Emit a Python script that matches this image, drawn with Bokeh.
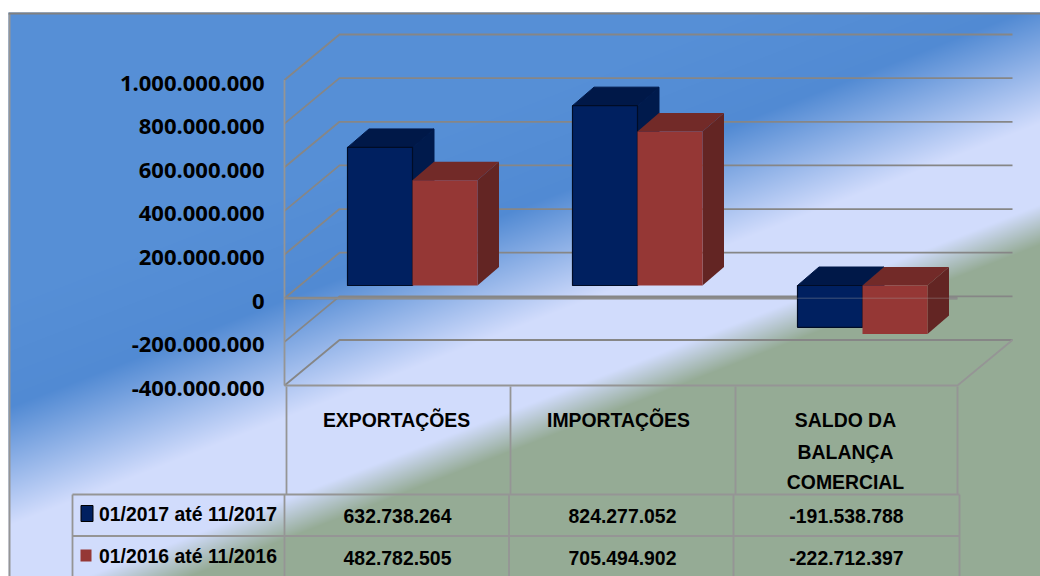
import numpy as np
from bokeh.core.properties import value
from bokeh.embed import file_html
from bokeh.models import FixedTicker, LinearAxis, Range1d
from bokeh.plotting import figure
from bokeh.resources import INLINE

categories = ["EXPORTAÇÕES", "IMPORTAÇÕES", "SALDO DA\nBALANÇA\nCOMERCIAL"]
series_2017 = [632738264, 824277052, -191538788]
series_2016 = [482782505, 705494902, -222712397]
label_2017 = "01/2017 até 11/2017"
label_2016 = "01/2016 até 11/2016"
ticks = [-400000000, -200000000, 0, 200000000, 400000000, 600000000, 800000000, 1000000000]

W, H = 1040, 576
PX = 200e6 / 43.64
ZERO = 297.7


def fmt(v):
    return f"{v:,}".replace(",", ".")


p = figure(width=W, height=H, output_backend="svg", toolbar_location=None,
           x_range=Range1d(0, 1040),
           y_range=Range1d((ZERO - 576) * PX, ZERO * PX),
           x_axis_type=None, y_axis_type=None, min_border=0,
           outline_line_color=None, background_fill_color="#ffffff", border_fill_color="#ffffff")
p.grid.visible = False
p.extra_y_ranges = {
    "px": Range1d(576, 0),
    "labels": Range1d((ZERO - 576 + 3) * PX, (ZERO + 3) * PX),
}

# diagonal background
xx, yy = np.meshgrid(np.arange(0, 1040) + .5, np.arange(576, 0, -1) - .5)
s = yy + 0.39 * xx
stops = [0, 300, 410, 528, 610, 650, 2000]
cols = np.array([(86, 143, 214), (86, 143, 214), (81, 138, 211), (209, 220, 252), (209, 220, 252),
                 (149, 171, 149), (149, 171, 149)], float)
img = np.zeros(s.shape + (4,), dtype=np.uint8)
for i in range(3):
    img[..., i] = np.interp(s, stops, cols[:, i]).round()
img[..., 3] = 255
# white margin above and left of the chart frame
img[(yy < 12.5) | (xx < 8)] = (255, 255, 255, 255)
rgba = img.view(dtype=np.uint32).reshape(s.shape)
p.image_rgba(image=[rgba], x=0, y=p.y_range.start, dw=1040, dh=p.y_range.end - p.y_range.start)

GRID = "#868686"
LIGHT = "#959595"
FX0, FX1 = 284, 957
DX, DY = 55, 45.5 * PX

# chart frame
p.line([9, 9], [576, 13], y_range_name="px", line_color=LIGHT, line_width=2)
p.line([8, 1040], [13, 13], y_range_name="px", line_color="#808080", line_width=2)

# walls and gridlines
for t in ticks:
    p.line([FX0, FX0 + DX, FX1 + DX], [t, t + DY, t + DY], line_color=GRID, line_width=1.8)
p.line([FX0, FX0], [ticks[0], ticks[-1]], line_color=LIGHT, line_width=1.8)
p.line([FX0, FX1, FX1 + DX], [ticks[0], ticks[0], ticks[0] + DY], line_color=LIGHT, line_width=1.8)
p.line([FX0, FX1], [0, 0], line_color=GRID, line_width=2.8)

# 3D bars
BASE = 12.7 * PX
BW, STEP, BX = 65, 225, 347
BDX, BDY = 21.5, 18.5 * PX
styles = [(series_2017, 0, "#002060", "#001848", "#001a4c", "#000c26", 1.2),
          (series_2016, 1, "#953735", "#722a28", "#632523", "#953735", 0)]
for vals, k, front, top, side, edge, lw in styles:
    lo = [min(v, 0) + BASE for v in vals]
    hi = [max(v, 0) + BASE for v in vals]
    x0 = [BX + i * STEP + k * BW for i in range(3)]
    x1 = [a + BW for a in x0]
    p.patches([[a, a + BDX, b + BDX, b] for a, b in zip(x0, x1)],
              [[h, h + BDY, h + BDY, h] for h in hi],
              fill_color=top, line_color=top if lw else None)
    p.patches([[b, b + BDX, b + BDX, b] for b in x1],
              [[l, l + BDY, h + BDY, h] for l, h in zip(lo, hi)],
              fill_color=side, line_color=side if lw else None)
    p.quad(left=x0, right=x1, bottom=lo, top=hi, fill_color=front,
           line_color=edge if lw else None, line_width=lw or 1)

p.line([FX0, FX1], [0, 0], line_color="#a0a0a0", line_alpha=0.4, line_width=1)

# value axis
axis = LinearAxis(y_range_name="labels", ticker=FixedTicker(ticks=ticks),
                  major_label_overrides={t: fmt(t) for t in ticks},
                  axis_line_color=None, major_tick_line_color=None, minor_tick_line_color=None,
                  major_tick_in=0, major_tick_out=0, major_label_standoff=20,
                  major_label_text_font="Open Sans", major_label_text_font_style="bold",
                  major_label_text_font_size="22px", major_label_text_color="#000000")
axis.fixed_location = FX0
p.add_layout(axis, "left")

# data table
TF = value("Liberation Sans")
FS = "19.4px"
for x in [286, 510, 735, 957]:
    p.line([x, x], [386, 494], y_range_name="px", line_color=LIGHT, line_width=1.8)
for x in [72, 284, 508.5, 733, 959]:
    p.line([x, x], [494, 576], y_range_name="px", line_color=LIGHT, line_width=1.8)
for y in [494, 535.5]:
    p.line([72, 959], [y, y], y_range_name="px", line_color=LIGHT, line_width=1.8)

hx = [396, 618, 845]
for x, c in zip(hx, categories):
    for line, y in zip(c.split("\n"), [419, 451, 481]):
        p.text([x], [y], text=[line], y_range_name="px", text_font=TF, text_font_style="bold",
               text_font_size=FS, text_align="center", text_baseline="middle", text_color="#000000")

vx = [397, 622, 846]
for vals, y in [(series_2017, 515), (series_2016, 557.5)]:
    p.text(vx, [y] * 3, text=[fmt(v) for v in vals], y_range_name="px", text_font=TF, text_font_style="bold",
           text_font_size=FS, text_align="center", text_baseline="middle", text_color="#000000")

p.quad(left=[80.5], right=[92.5], top=[505], bottom=[521], y_range_name="px",
       fill_color="#002060", line_color="#000000", line_width=1)
p.quad(left=[80], right=[91], top=[549], bottom=[561], y_range_name="px",
       fill_color="#953735", line_color=None)
for lab, y in [(label_2017, 513), (label_2016, 555)]:
    p.text([98.5], [y], text=[lab], y_range_name="px", text_font=TF, text_font_style="bold",
           text_font_size=FS, text_align="left", text_baseline="middle", text_color="#000000")

open("out.html", "w").write(file_html(p, INLINE))
